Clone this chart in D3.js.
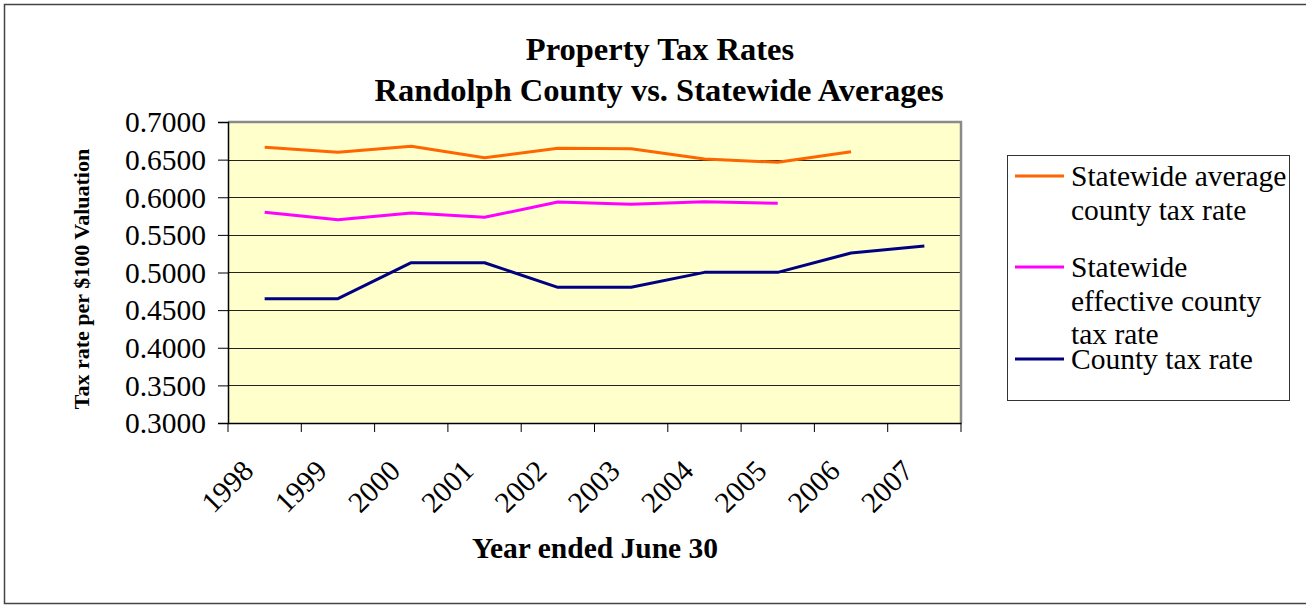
<!DOCTYPE html>
<html>
<head>
<meta charset="utf-8">
<script src="https://cdn.jsdelivr.net/npm/d3@7"></script>
<style>
  body { margin: 0; background: #fff; }
  svg text { font-family: "Liberation Serif", "Times New Roman", serif; fill: #000; }
</style>
</head>
<body>
<svg id="chart" width="1306" height="605"></svg>
<script>
// data
var years = ['1998','1999','2000','2001','2002','2003','2004','2005','2006','2007'];
var statewideAvg = [0.6664, 0.6597, 0.6677, 0.6526, 0.6650, 0.6645, 0.6508, 0.6464, 0.6606, null];
var statewideEff = [0.5800, 0.5702, 0.5791, 0.5733, 0.5937, 0.5906, 0.5941, 0.5920, null, null];
var countyRate   = [0.4652, 0.4652, 0.5130, 0.5130, 0.4803, 0.4803, 0.5002, 0.5002, 0.5260, 0.5352];
var yTicks = [0.30, 0.35, 0.40, 0.45, 0.50, 0.55, 0.60, 0.65, 0.70];

var seriesColors = ['#FF6600', '#FF00FF', '#000080'];
var legendLines = [['Statewide average', 'county tax rate'], ['Statewide', 'effective county', 'tax rate'], ['County tax rate']];

var svg = d3.select('#chart');

// outer frame
svg.append('rect')
  .attr('x', 4.5).attr('y', 4.5)
  .attr('width', 1310).attr('height', 599)
  .attr('fill', 'none').attr('stroke', '#444').attr('stroke-width', 1.5);

var plot = {left: 228, top: 122, right: 961, bottom: 423};

var xScale = d3.scaleBand().domain(years).range([plot.left, plot.right]);
var yScale = d3.scaleLinear().domain([0.3, 0.7]).range([plot.bottom, plot.top]);

// plot background
svg.append('rect')
  .attr('x', plot.left).attr('y', plot.top)
  .attr('width', plot.right - plot.left).attr('height', plot.bottom - plot.top)
  .attr('fill', '#FFFFCC');

// gridlines
svg.append('g').selectAll('line')
  .data(yTicks.slice(1, -1))
  .enter().append('line')
  .attr('x1', plot.left).attr('x2', plot.right)
  .attr('y1', function(d) { return Math.round(yScale(d)) + 0.5; })
  .attr('y2', function(d) { return Math.round(yScale(d)) + 0.5; })
  .attr('stroke', '#222').attr('stroke-width', 1);

// plot border (top and right, grey)
svg.append('path')
  .attr('d', 'M' + plot.left + ',' + plot.top + 'H' + plot.right + 'V' + plot.bottom)
  .attr('fill', 'none').attr('stroke', '#8a8a8a').attr('stroke-width', 2.5);

// y axis
var yAxisG = svg.append('g')
  .attr('transform', 'translate(' + plot.left + ',0)')
  .call(d3.axisLeft(yScale).tickValues(yTicks).tickSize(10).tickPadding(12)
    .tickFormat(d3.format('.4f')));
yAxisG.selectAll('text').attr('font-size', 29.5).attr('dy', '0.33em');

// x axis: ticks sit on the category boundaries
var xAxisG = svg.append('g')
  .attr('transform', 'translate(0,' + plot.bottom + ')')
  .call(d3.axisBottom(xScale).tickSize(0).tickFormat(''));
var bounds = years.map(function(d) { return xScale(d); }).concat([plot.right]);
xAxisG.selectAll('.bound').data(bounds).enter().append('line')
  .attr('x1', function(d) { return d; }).attr('x2', function(d) { return d; })
  .attr('y1', 0).attr('y2', 9)
  .attr('stroke', '#000');

xAxisG.selectAll('.yr').data(years).enter().append('text')
  .attr('class', 'yr')
  .attr('font-size', 29.5)
  .attr('text-anchor', 'end')
  .attr('transform', function(d) {
    var cx = xScale(d) + xScale.bandwidth() / 2;
    return 'translate(' + (cx - 24) + ',35) rotate(-45)';
  })
  .attr('dy', '0.7em')
  .text(function(d) { return d; });

svg.selectAll('.domain').attr('stroke', '#000').attr('stroke-width', 1.5);
svg.selectAll('.tick line').attr('stroke', '#000');

// lines
var lineGen = d3.line()
  .defined(function(d) { return d.v != null; })
  .x(function(d) { return xScale(d.year) + xScale.bandwidth() / 2; })
  .y(function(d) { return yScale(d.v); });

[statewideAvg, statewideEff, countyRate].forEach(function(vals, i) {
  var pts = years.map(function(y, j) { return {year: y, v: vals[j]}; });
  svg.append('path')
    .datum(pts)
    .attr('d', lineGen)
    .attr('fill', 'none')
    .attr('stroke', seriesColors[i])
    .attr('stroke-width', 3)
    .attr('stroke-linejoin', 'round');
});

// titles
svg.append('text')
  .attr('x', 660).attr('y', 60)
  .attr('text-anchor', 'middle')
  .attr('font-size', 32.5).attr('font-weight', 'bold')
  .text('Property Tax Rates');
svg.append('text')
  .attr('x', 659).attr('y', 101)
  .attr('text-anchor', 'middle')
  .attr('font-size', 32.5).attr('font-weight', 'bold')
  .text('Randolph County vs. Statewide Averages');

svg.append('text')
  .attr('x', 595).attr('y', 558)
  .attr('text-anchor', 'middle')
  .attr('font-size', 29.5).attr('font-weight', 'bold')
  .text('Year ended June 30');

svg.append('text')
  .attr('transform', 'translate(89,279) rotate(-90)')
  .attr('text-anchor', 'middle')
  .attr('font-size', 22).attr('font-weight', 'bold')
  .text('Tax rate per $100 Valuation');

// legend
var legend = svg.append('g');
legend.append('rect')
  .attr('x', 1007.5).attr('y', 155.5)
  .attr('width', 282).attr('height', 245)
  .attr('fill', '#fff').attr('stroke', '#333').attr('stroke-width', 1);

var legendY = [176, 267, 359];
legendLines.forEach(function(lines, i) {
  legend.append('line')
    .attr('x1', 1015).attr('x2', 1064)
    .attr('y1', legendY[i]).attr('y2', legendY[i])
    .attr('stroke', seriesColors[i]).attr('stroke-width', 3);
  var t = legend.append('text')
    .attr('x', 1071).attr('y', legendY[i] + 10)
    .attr('font-size', 29.5);
  lines.forEach(function(line, k) {
    t.append('tspan').attr('x', 1071).attr('dy', k === 0 ? 0 : 33.5).text(line);
  });
});
</script>
</body>
</html>
